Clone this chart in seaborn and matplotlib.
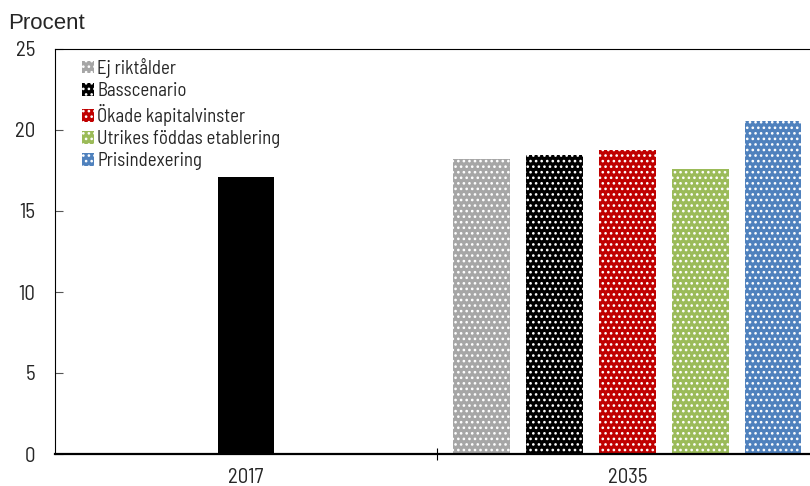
import matplotlib
matplotlib.use("Agg")
import matplotlib.pyplot as plt
import seaborn as sns
import pandas as pd

years = ["2017", "2035"]
scenarios = ["Ej riktålder", "Basscenario", "Ökade kapitalvinster",
             "Utrikes föddas etablering", "Prisindexering"]
colors = ["#a6a6a6", "#000000", "#c00000", "#9bbb59", "#4f81bd"]
value_2017 = [17.1]  # Basscenario
values_2035 = [18.2, 18.45, 18.75, 17.6, 20.55]
yticks = [0, 5, 10, 15, 20, 25]

sns.set_theme(style="white")
narrow = ["Barlow Semi Condensed", "DejaVu Sans"]
plt.rcParams["font.family"] = narrow
plt.rcParams["hatch.linewidth"] = 1.1

fig = plt.figure(figsize=(8.1, 4.86), dpi=100)
ax = fig.add_axes([55/810, 32/486, 763/810, 405/486])

df17 = pd.DataFrame({"year": ["2017"], "value": value_2017})
df35 = pd.DataFrame({"year": ["2035"] * 5, "scenario": scenarios, "value": values_2035})

sns.barplot(data=df17, x="year", y="value", order=years, color="black",
            width=0.147, saturation=1, ax=ax, errorbar=None)
n17 = len(ax.patches)
sns.barplot(data=df35, x="year", y="value", hue="scenario", order=years,
            hue_order=scenarios, palette=colors, width=0.955, gap=0.22,
            saturation=1, ax=ax, errorbar=None, legend=True)

for p in ax.patches:
    p.set_linewidth(0)
for p in ax.patches[n17:]:
    p.set_edgecolor("white")
    p.set_hatch("...")

ax.set_xlim(-0.5, 1.5)
ax.set_ylim(0, 25)
ax.set_yticks(yticks)
ax.set_yticklabels([str(t) for t in yticks], fontsize=15)
ax.set_xticks([0, 1])
ax.set_xticklabels(years, fontsize=15)
ax.set_xticks([0.5], minor=True)
ax.tick_params(axis="x", which="major", length=0, pad=10)
ax.tick_params(axis="x", which="minor", length=9, direction="inout", width=0.8, color="black", bottom=True)
ax.tick_params(axis="y", which="major", length=6, direction="in", width=0.8, color="#555555", left=True, pad=14)
ax.set_xlabel("")
ax.set_ylabel("")
for s in ax.spines.values():
    s.set_color("black")
    s.set_linewidth(0.8)
ax.spines["bottom"].set_linewidth(1.6)

leg = ax.legend(loc="upper left", bbox_to_anchor=(0.026, 0.997), frameon=False,
                fontsize=13.5, handlelength=0.6, handleheight=0.65,
                handletextpad=0.2, labelspacing=0.22, borderaxespad=0)

fig.text(8/810, 1 - 29/486, "Procent", fontsize=16, va="baseline", ha="left",
         family=["Liberation Sans", "DejaVu Sans"])

fig.savefig("out.png", dpi=100)
